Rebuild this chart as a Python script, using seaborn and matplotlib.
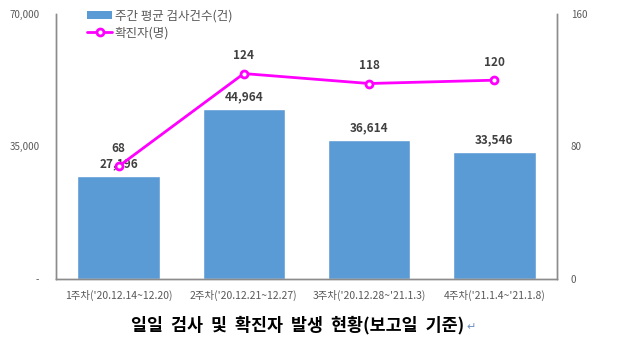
import pandas as pd
import matplotlib.pyplot as plt
import seaborn as sns
from matplotlib.lines import Line2D
from matplotlib.patches import Patch

weeks = ["1주차('20.12.14~12.20)", "2주차('20.12.21~12.27)",
         "3주차('20.12.28~'21.1.3)", "4주차('21.1.4~'21.1.8)"]
tests = [27196, 44964, 36614, 33546]
cases = [68, 124, 118, 120]

df = pd.DataFrame({'week': weeks, 'tests': tests, 'cases': cases})

sns.set_style("white")
plt.rcParams['font.family'] = ['Noto Sans CJK KR', 'DejaVu Sans']

bar_color = '#5B9BD5'
line_color = '#FF00FF'
grey = '#595959'

fig = plt.figure(figsize=(6.2, 3.57), dpi=100)
ax = fig.add_axes([0.0903, 0.2185, 0.808, 0.7425])

sns.barplot(data=df, x='week', y='tests', color=bar_color, width=0.66,
            saturation=1, ax=ax)
ax.set_ylim(0, 70000)
ax.set_yticks([0, 35000, 70000])
ax.set_yticklabels(['-', '35,000', '70,000'])
ax.set_xlabel('')
ax.set_ylabel('')
ax.tick_params(axis='y', length=0, pad=12, labelsize=7, labelcolor=grey)
ax.tick_params(axis='x', length=0, pad=8, labelsize=7.5, labelcolor=grey)

for i, v in enumerate(tests):
    ax.text(i, v + 1500, f'{v:,}', ha='center', va='bottom',
            fontsize=8.5, fontweight='bold', color='#404040')

ax2 = ax.twinx()
sns.pointplot(data=df, x='week', y='cases', color=line_color, ax=ax2,
              markers='o', markersize=5, linewidth=2,
              markerfacecolor='white', markeredgewidth=2)
ax2.set_ylim(0, 160)
ax2.set_yticks([0, 80, 160])
ax2.set_ylabel('')
ax2.tick_params(axis='y', length=0, pad=10, labelsize=7, labelcolor=grey)

for i, v in enumerate(cases):
    ax2.text(i, v + 7, str(v), ha='center', va='bottom',
             fontsize=8.5, fontweight='bold', color='#404040')

for a in (ax, ax2):
    a.spines['top'].set_visible(False)
    for s in ('left', 'right', 'bottom'):
        a.spines[s].set_color('#8c8c8c')
        a.spines[s].set_linewidth(1)
    a.spines['left'].set_visible(True)
    a.spines['right'].set_visible(True)

handles = [Patch(facecolor=bar_color, edgecolor='none'),
           Line2D([], [], color=line_color, lw=2, marker='o', markersize=5,
                  markerfacecolor='white', markeredgewidth=2)]
ax2.legend(handles, ['주간 평균 검사건수(건)', '확진자(명)'],
           loc='upper left', bbox_to_anchor=(0.045, 1.05), frameon=False,
           fontsize=9, labelcolor=grey, handlelength=2.0, handletextpad=0.2,
           labelspacing=0.3, borderpad=0.2)

fig.text(0.48, 0.09, '일일  검사  및  확진자  발생  현황(보고일  기준)',
         ha='center', va='center', fontsize=12.5, fontweight='bold', color='black')
fig.text(0.753, 0.085, '↵', ha='left', va='center', fontsize=8, color='#6f8fbf')

plt.savefig('out.png', dpi=100)
